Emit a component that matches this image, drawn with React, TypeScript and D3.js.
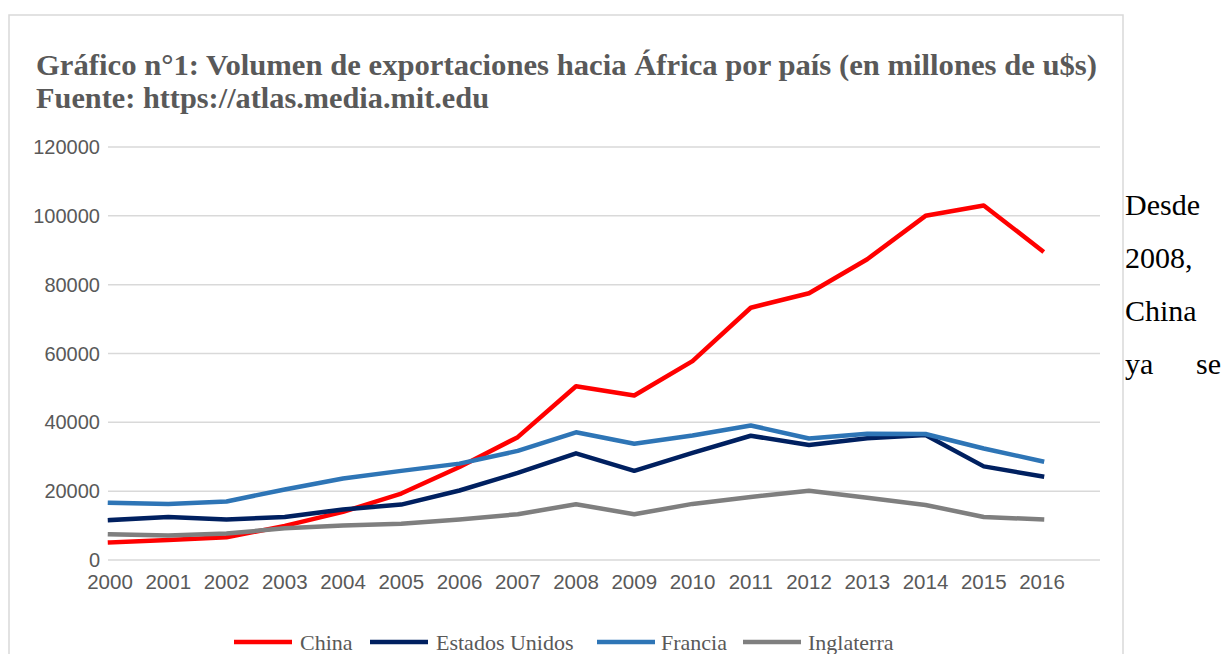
import React from "react";
import * as d3 from "d3";

const years = [2000, 2001, 2002, 2003, 2004, 2005, 2006, 2007, 2008, 2009, 2010, 2011, 2012, 2013, 2014, 2015, 2016];
const china = [5100, 5800, 6600, 9900, 14000, 19300, 27000, 35700, 50500, 47800, 57800, 73300, 77500, 87400, 100000, 103000, 89900];
const estadosUnidos = [11600, 12500, 11800, 12500, 14700, 16100, 20200, 25300, 31000, 25900, 31100, 36100, 33400, 35400, 36300, 27200, 24300];
const francia = [16600, 16300, 17000, 20500, 23700, 25900, 28000, 31700, 37100, 33800, 36200, 39100, 35300, 36700, 36600, 32400, 28700];
const inglaterra = [7500, 7100, 7700, 9200, 10000, 10500, 11800, 13300, 16200, 13300, 16300, 18300, 20100, 18100, 16000, 12500, 11800];
const yTicks = [0, 20000, 40000, 60000, 80000, 100000, 120000];
const seriesNames = ["China", "Estados Unidos", "Francia", "Inglaterra"];
const seriesColors = ["#FF0000", "#002060", "#2E75B6", "#7F7F7F"];
const titleLines = [
  "Gráfico n°1: Volumen de exportaciones hacia África por país (en millones de u$s)",
  "Fuente: https://atlas.media.mit.edu",
];
const titleWidths = [1061, 453];
const sideText = ["Desde", "2008,", "China"];

export default function App() {
  const W = 1227, H = 654;
  const x = d3.scalePoint<number>().domain(years).range([110, 1042]);
  const y = d3.scaleLinear().domain([0, 120000]).range([560, 147]);
  const gridX0 = 108, gridX1 = 1100;
  const data = [china, estadosUnidos, francia, inglaterra];
  const line = d3.line<number>().x((_, i) => x(years[i])!).y((v) => y(v));
  const legendItems = [
    { sx: 234, tx: 300 },
    { sx: 370, tx: 436 },
    { sx: 597, tx: 661 },
    { sx: 743, tx: 808 },
  ];
  return (
    <svg width={W} height={H} style={{ position: "absolute", left: 0, top: 0, background: "#fff" }}>
      <rect x={9} y={15} width={1114} height={700} fill="#fff" stroke="#D9D9D9" strokeWidth={1.5} />
      {titleLines.map((t, i) => (
        <text
          key={i}
          x={36}
          y={74.5 + i * 33}
          textLength={titleWidths[i]}
          lengthAdjust="spacingAndGlyphs"
          fontFamily="'Liberation Serif', serif"
          fontWeight="bold"
          fontSize={28.5}
          fill="#595959"
        >
          {t}
        </text>
      ))}
      {yTicks.map((t) => (
        <g key={t}>
          <line x1={gridX0} x2={gridX1} y1={y(t)} y2={y(t)} stroke="#D9D9D9" strokeWidth={1.5} />
          <text x={100} y={y(t)} dy="0.35em" textAnchor="end" fontFamily="'Liberation Sans', Arial, sans-serif" fontSize={20} fill="#595959">
            {t}
          </text>
        </g>
      ))}
      {years.map((yr) => (
        <text key={yr} x={x(yr)} y={589} textAnchor="middle" fontFamily="'Liberation Sans', Arial, sans-serif" fontSize={20.5} fill="#595959">
          {yr}
        </text>
      ))}
      {data.map((d, i) => (
        <path key={i} d={line(d)!} fill="none" stroke={seriesColors[i]} strokeWidth={4.5} strokeLinejoin="round" strokeLinecap="square" />
      ))}
      {seriesNames.map((n, i) => (
        <g key={n}>
          <line x1={legendItems[i].sx} x2={legendItems[i].sx + 58} y1={642} y2={642} stroke={seriesColors[i]} strokeWidth={4.5} />
          <text x={legendItems[i].tx} y={650} fontFamily="'Liberation Serif', serif" fontSize={22} fill="#595959">
            {n}
          </text>
        </g>
      ))}
      {sideText.map((t, i) => (
        <text key={t} x={1125} y={215 + i * 53} fontFamily="'Liberation Serif', serif" fontSize={30} fill="#000">
          {t}
        </text>
      ))}
      <text x={1125} y={374} fontFamily="'Liberation Serif', serif" fontSize={30} fill="#000">ya</text>
      <text x={1221} y={374} textAnchor="end" fontFamily="'Liberation Serif', serif" fontSize={30} fill="#000">se</text>
    </svg>
  );
}
